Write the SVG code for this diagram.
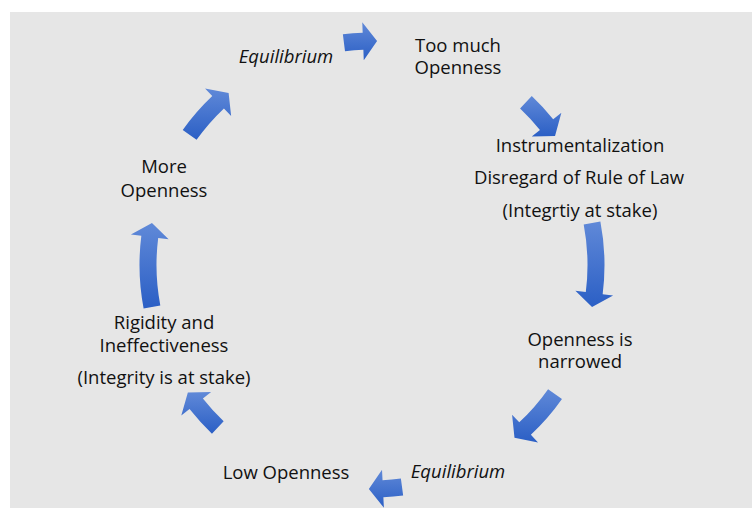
<svg xmlns="http://www.w3.org/2000/svg" width="752" height="508" viewBox="0 0 752 508">
  <defs>
    <linearGradient id="arrowFill" x1="0" y1="0" x2="0" y2="1">
      <stop offset="0" stop-color="#6089d8"/>
      <stop offset="1" stop-color="#2b5fc5"/>
    </linearGradient>
  </defs>
  <style>
    text { font-family: "Open Sans", "Noto Sans", "Liberation Sans", sans-serif; font-size: 18.5px; fill: #111111; text-anchor: middle; }
    .eq { font-style: italic; }
    .arrow { fill: url(#arrowFill); stroke: none; }
  </style>

  <!-- canvas -->
  <rect x="0" y="0" width="752" height="508" fill="#ffffff"/>
  <rect x="10" y="12" width="742" height="496" fill="#e6e6e6"/>

  <!-- cycle arrows, arc segments around (372,265), r = 224 -->
  <g id="connectors">
    <path class="arrow" d="M342.87,34.34 A232.5,232.5 0 0 1 362.68,32.69 L362.26,22.19 L377.08,41.07 L363.78,60.16 L363.36,49.67 A215.5,215.5 0 0 0 345.00,51.20 Z"/>
    <path class="arrow" d="M531.75,96.07 A232.5,232.5 0 0 1 553.19,119.32 L561.37,112.74 L555.03,135.89 L531.76,136.55 L539.94,129.97 A215.5,215.5 0 0 0 520.07,108.42 Z"/>
    <path class="arrow" d="M600.38,221.43 A232.5,232.5 0 0 1 602.66,294.13 L613.08,295.45 L592.04,306.98 L575.38,290.69 L585.80,292.00 A215.5,215.5 0 0 0 583.69,224.62 Z"/>
    <path class="arrow" d="M561.98,399.01 A232.5,232.5 0 0 1 530.87,434.77 L538.04,442.44 L514.49,437.84 L512.08,414.69 L519.25,422.36 A215.5,215.5 0 0 0 548.09,389.21 Z"/>
    <path class="arrow" d="M403.16,495.41 A232.5,232.5 0 0 1 383.37,497.22 L383.88,507.71 L368.86,488.98 L382.02,469.75 L382.54,480.24 A215.5,215.5 0 0 0 400.88,478.56 Z"/>
    <path class="arrow" d="M211.95,433.66 A232.5,232.5 0 0 1 189.53,409.10 L181.29,415.61 L187.85,392.52 L211.12,392.06 L202.88,398.57 A215.5,215.5 0 0 0 223.65,421.32 Z"/>
    <path class="arrow" d="M143.62,308.57 A232.5,232.5 0 0 1 141.34,235.87 L130.92,234.55 L151.96,223.02 L168.62,239.31 L158.20,238.00 A215.5,215.5 0 0 0 160.31,305.38 Z"/>
    <path class="arrow" d="M182.72,129.99 A232.5,232.5 0 0 1 212.25,96.07 L205.03,88.44 L228.62,92.90 L231.14,116.05 L223.93,108.42 A215.5,215.5 0 0 0 196.56,139.86 Z"/>
  </g>

  <!-- cycle stages -->
  <g id="node-equilibrium-top">
    <text class="eq" x="286" y="63">Equilibrium</text>
  </g>
  <g id="node-too-much-openness">
    <text x="458" y="52">Too much</text>
    <text x="458" y="74">Openness</text>
  </g>
  <g id="node-instrumentalization">
    <text x="580" y="152">Instrumentalization</text>
    <text x="579" y="184">Disregard of Rule of Law</text>
    <text x="580" y="217">(Integrtiy at stake)</text>
  </g>
  <g id="node-openness-narrowed">
    <text x="580" y="346">Openness is</text>
    <text x="580" y="368">narrowed</text>
  </g>
  <g id="node-equilibrium-bottom">
    <text class="eq" x="458" y="478">Equilibrium</text>
  </g>
  <g id="node-low-openness">
    <text x="286" y="479">Low Openness</text>
  </g>
  <g id="node-rigidity">
    <text x="164" y="329">Rigidity and</text>
    <text x="164" y="352">Ineffectiveness</text>
    <text x="164" y="384">(Integrity is at stake)</text>
  </g>
  <g id="node-more-openness">
    <text x="164" y="173">More</text>
    <text x="164" y="197">Openness</text>
  </g>
</svg>
